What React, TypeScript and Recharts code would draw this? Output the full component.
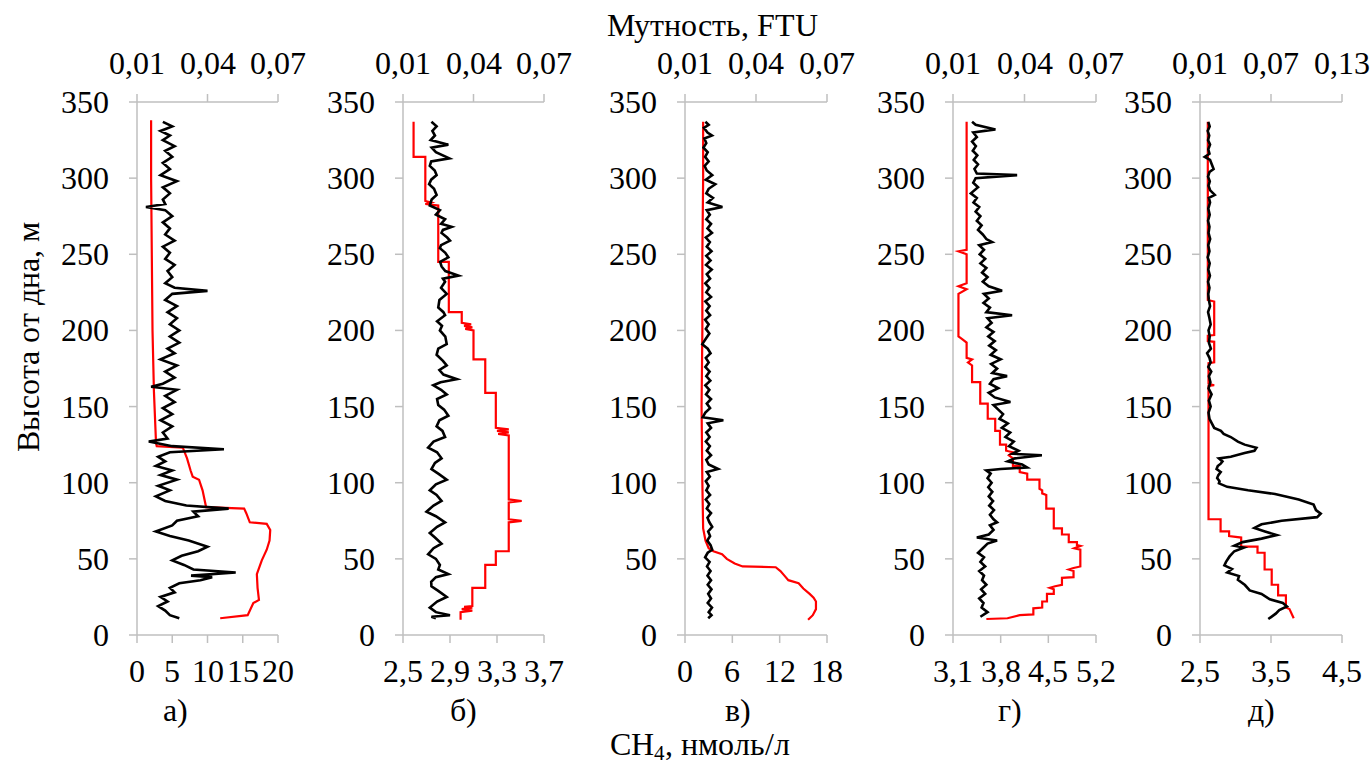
import { ScatterChart, Scatter, XAxis, YAxis } from "recharts";

// профили: [высота, значение]
const turbA = [
  [337, 0.021], [334, 0.025], [331, 0.02], [328, 0.024], [325, 0.021], [321, 0.026], [318, 0.022], [314, 0.025],
  [310, 0.021], [306, 0.024], [302, 0.02], [298, 0.027], [294, 0.021], [290, 0.024], [286, 0.021], [283, 0.022],
  [281, 0.0138], [279, 0.022], [275, 0.025], [271, 0.021], [267, 0.024], [263, 0.022], [259, 0.026], [255, 0.021],
  [251, 0.024], [247, 0.022], [243, 0.026], [239, 0.023], [235, 0.025], [231, 0.022], [228, 0.026], [226, 0.04],
  [224, 0.025], [220, 0.022], [216, 0.027], [212, 0.023], [208, 0.027], [204, 0.024], [200, 0.028], [196, 0.024],
  [192, 0.028], [188, 0.023], [185, 0.026], [181, 0.02], [177, 0.027], [173, 0.022], [169, 0.026], [165, 0.021],
  [163, 0.016], [161, 0.027], [157, 0.022], [153, 0.026], [149, 0.021], [145, 0.025], [141, 0.02], [137, 0.025],
  [133, 0.021], [129, 0.023], [127, 0.015], [124, 0.025], [122, 0.047], [120, 0.024], [117, 0.019], [114, 0.022],
  [111, 0.018], [108, 0.025], [105, 0.02], [102, 0.027], [98, 0.019], [95, 0.024], [91, 0.018], [88, 0.022],
  [85, 0.031], [83, 0.049], [81, 0.034], [78, 0.036], [75, 0.027], [72, 0.025], [68, 0.018], [65, 0.024],
  [62, 0.032], [58, 0.04], [55, 0.036], [52, 0.029], [49, 0.025], [46, 0.03], [43, 0.034], [41, 0.052],
  [39, 0.033], [38, 0.042], [36, 0.037], [34, 0.028], [31, 0.024], [28, 0.026], [25, 0.02], [22, 0.023],
  [19, 0.019], [16, 0.022], [13, 0.024], [11, 0.028],
];
const ch4A = [
  [338, 2.0], [300, 2.0], [250, 2.1], [200, 2.2], [160, 2.4], [126, 2.7], [124, 2.8], [123, 6.5], [116, 7.1],
  [108, 7.6], [104, 7.9], [102, 8.8], [95, 9.3], [84, 9.8], [83, 15.2], [80, 15.5], [74, 16.0], [73, 18.4],
  [69, 18.9], [62, 18.8], [56, 18.4], [49, 17.7], [40, 17.0], [31, 17.1], [23, 17.3], [21, 16.5], [13, 15.7],
  [11, 11.8],
];

const turbB = [
  [337, 0.0221], [334, 0.0243], [331, 0.0225], [328, 0.0236], [325, 0.0218], [322, 0.0293], [320, 0.0222],
  [317, 0.024], [313, 0.0297], [311, 0.022], [308, 0.0214], [305, 0.0235], [302, 0.0243], [299, 0.022],
  [296, 0.0211], [293, 0.0232], [289, 0.0243], [286, 0.0222], [282, 0.0214], [279, 0.0257], [276, 0.024],
  [273, 0.0279], [270, 0.0262], [268, 0.0307], [266, 0.027], [264, 0.0264], [261, 0.0288], [259, 0.03],
  [256, 0.0262], [254, 0.0257], [251, 0.028], [248, 0.0293], [245, 0.0258], [242, 0.0264], [239, 0.028],
  [236, 0.0336], [234, 0.027], [232, 0.0279], [228, 0.0262], [224, 0.0286], [220, 0.0255], [215, 0.025],
  [212, 0.0272], [210, 0.0279], [206, 0.0245], [203, 0.0266], [200, 0.0257], [196, 0.028], [191, 0.0286],
  [188, 0.025], [184, 0.0243], [180, 0.027], [177, 0.0286], [174, 0.0255], [171, 0.0272], [168, 0.0329],
  [166, 0.026], [164, 0.0229], [161, 0.0262], [158, 0.0286], [155, 0.0245], [151, 0.025], [148, 0.0275],
  [144, 0.0293], [141, 0.0255], [137, 0.0243], [134, 0.0268], [130, 0.0279], [127, 0.023], [123, 0.0207],
  [120, 0.0245], [116, 0.0264], [113, 0.0236], [109, 0.0221], [106, 0.025], [102, 0.0286], [99, 0.024],
  [95, 0.0214], [92, 0.0243], [88, 0.0264], [85, 0.023], [81, 0.02], [78, 0.024], [74, 0.0279], [71, 0.0245],
  [67, 0.0214], [64, 0.0236], [60, 0.0264], [57, 0.023], [53, 0.0207], [50, 0.024], [46, 0.0257], [43, 0.025],
  [40, 0.0293], [38, 0.024], [35, 0.022], [32, 0.0221], [29, 0.025], [25, 0.0286], [22, 0.0245], [18, 0.0214],
  [15, 0.024], [13, 0.03], [12, 0.0221], [11, 0.024],
];
const ch4B = [
  [337, 2.59], [314, 2.59], [314, 2.69], [285, 2.69], [284, 2.74], [283, 2.69], [282, 2.8], [245, 2.8],
  [245, 2.89], [212, 2.89], [212, 3.0], [205, 3.0], [204, 3.08], [203, 3.02], [202, 3.09], [201, 3.03],
  [200, 3.1], [181, 3.1], [181, 3.2], [159, 3.2], [159, 3.29], [136, 3.29], [135, 3.4], [134, 3.3],
  [133, 3.4], [132, 3.31], [131, 3.4], [89, 3.4], [88, 3.51], [87, 3.4], [76, 3.4], [75, 3.51], [74, 3.4],
  [55, 3.4], [55, 3.29], [46, 3.29], [46, 3.2], [31, 3.2], [31, 3.09], [19, 3.09], [18.5, 3.02], [18, 3.09],
  [17, 3.0], [16, 3.09], [15, 2.99], [10, 2.99],
];

const turbC = [
  [337, 0.0186], [335, 0.02], [333, 0.018], [330, 0.0195], [328, 0.0214], [326, 0.0182], [323, 0.019],
  [320, 0.0178], [317, 0.0196], [314, 0.0185], [311, 0.02], [308, 0.0183], [305, 0.0192], [302, 0.0215],
  [299, 0.0188], [296, 0.0228], [293, 0.02], [290, 0.019], [287, 0.0218], [284, 0.0196], [281, 0.0258],
  [279, 0.0192], [276, 0.0205], [273, 0.019], [270, 0.021], [267, 0.0195], [264, 0.0214], [261, 0.0188],
  [258, 0.0205], [255, 0.0192], [252, 0.0212], [249, 0.019], [246, 0.0208], [243, 0.0189], [240, 0.0213],
  [237, 0.0192], [234, 0.0206], [231, 0.0186], [228, 0.0203], [225, 0.019], [222, 0.021], [219, 0.0186],
  [216, 0.0204], [213, 0.019], [210, 0.0206], [207, 0.0185], [204, 0.02], [201, 0.0188], [198, 0.0203],
  [195, 0.019], [191, 0.0173], [188, 0.0196], [185, 0.0208], [182, 0.0188], [179, 0.02], [176, 0.0186],
  [173, 0.0204], [170, 0.019], [167, 0.0207], [164, 0.0186], [161, 0.0203], [158, 0.0189], [155, 0.021],
  [152, 0.0192], [149, 0.0206], [146, 0.0186], [143, 0.0175], [141, 0.0262], [139, 0.0196], [136, 0.021],
  [133, 0.019], [130, 0.0204], [127, 0.0188], [124, 0.0205], [121, 0.0192], [118, 0.021], [115, 0.019],
  [112, 0.02], [109, 0.024], [107, 0.0192], [104, 0.0205], [101, 0.0188], [98, 0.02], [95, 0.019],
  [92, 0.0206], [89, 0.0188], [86, 0.0203], [83, 0.0192], [80, 0.021], [77, 0.0195], [74, 0.0203],
  [71, 0.0215], [68, 0.0198], [65, 0.0206], [62, 0.0194], [59, 0.0208], [56, 0.0215], [54, 0.0196],
  [51, 0.0185], [48, 0.0204], [45, 0.0193], [42, 0.0208], [39, 0.0195], [36, 0.021], [33, 0.0196],
  [30, 0.0212], [27, 0.0198], [24, 0.021], [21, 0.0196], [18, 0.0214], [15, 0.02], [13, 0.0212], [11, 0.0198],
];
const ch4C = [
  [337, 2.3], [300, 2.3], [250, 2.2], [200, 2.2], [150, 2.1], [100, 2.2], [70, 2.3], [62, 2.6], [57, 3.0],
  [55, 3.6], [53, 4.7], [50, 5.3], [47, 6.3], [45, 7.3], [44.5, 11.5], [42, 12.1], [39, 12.6], [36, 13.1],
  [34, 14.4], [30.5, 15.0], [27, 15.8], [24.5, 16.3], [22, 16.6], [17, 16.6], [13, 16.2], [10, 15.6],
];

const turbD = [
  [337, 0.018], [335, 0.0195], [332, 0.0278], [330, 0.0185], [327, 0.02], [324, 0.018], [321, 0.0196],
  [318, 0.0183], [315, 0.0202], [312, 0.0187], [309, 0.0205], [306, 0.019], [303, 0.02], [302, 0.0369],
  [300, 0.0195], [297, 0.0185], [294, 0.0205], [290, 0.0175], [287, 0.02], [284, 0.0186], [281, 0.021],
  [278, 0.0195], [275, 0.0215], [272, 0.02], [269, 0.022], [266, 0.0205], [263, 0.0225], [260, 0.024],
  [258, 0.0264], [256, 0.021], [253, 0.023], [250, 0.0212], [247, 0.0235], [244, 0.0215], [241, 0.024],
  [238, 0.0222], [235, 0.0245], [232, 0.0225], [229, 0.025], [226, 0.0306], [224, 0.023], [221, 0.025],
  [218, 0.0228], [215, 0.0255], [212, 0.024], [210, 0.0348], [208, 0.0245], [205, 0.0262], [202, 0.024],
  [199, 0.027], [196, 0.0248], [193, 0.0275], [190, 0.0252], [187, 0.028], [184, 0.0258], [181, 0.03],
  [178, 0.026], [175, 0.0285], [172, 0.0265], [170, 0.0327], [168, 0.027], [165, 0.0255], [162, 0.029],
  [159, 0.025], [156, 0.0275], [153, 0.0341], [151, 0.027], [148, 0.029], [145, 0.031], [142, 0.0295],
  [139, 0.033], [136, 0.0305], [133, 0.034], [130, 0.032], [127, 0.0355], [124, 0.0335], [121, 0.0375],
  [119, 0.035], [118, 0.0473], [116, 0.036], [114, 0.033], [112, 0.039], [110, 0.0411], [109, 0.03],
  [108, 0.024], [106, 0.0258], [103, 0.0245], [100, 0.0262], [97, 0.0248], [94, 0.0265], [91, 0.025],
  [88, 0.0268], [85, 0.0252], [82, 0.0272], [79, 0.0255], [76, 0.027], [74, 0.0285], [72, 0.0255],
  [69, 0.027], [66, 0.025], [64, 0.02], [62, 0.0285], [60, 0.0245], [57, 0.0225], [54, 0.0205], [51, 0.023],
  [48, 0.0215], [45, 0.0235], [42, 0.021], [39, 0.023], [36, 0.0222], [33, 0.024], [30, 0.0218], [27, 0.0235],
  [24, 0.021], [21, 0.0228], [18, 0.022], [15, 0.0245], [12, 0.0215],
];
const ch4D = [
  [337, 3.3], [253, 3.3], [252, 3.18], [250, 3.3], [231, 3.3], [229, 3.18], [227, 3.3], [224, 3.18],
  [196, 3.18], [194.5, 3.23], [192, 3.3], [182, 3.3], [181, 3.38], [179, 3.32], [177, 3.38], [166, 3.38],
  [166, 3.5], [152, 3.5], [152, 3.61], [142, 3.61], [142, 3.72], [134, 3.72], [134, 3.79], [125, 3.79],
  [125, 3.88], [121, 3.88], [120, 3.98], [118, 3.92], [116, 3.98], [111, 3.98], [111, 4.08], [107, 4.08],
  [106, 4.19], [102, 4.19], [102, 4.37], [96, 4.37], [95, 4.41], [93, 4.41], [92, 4.47], [83, 4.47],
  [83, 4.58], [70, 4.58], [70, 4.7], [66, 4.7], [66, 4.8], [61, 4.8], [61, 4.92], [59, 4.92], [58.5, 4.97],
  [57, 4.88], [56, 4.97], [48, 4.97], [45, 4.97], [44, 4.87], [43, 4.8], [42, 4.87], [38, 4.87], [37.5, 4.7],
  [33, 4.7], [32, 4.6], [31, 4.52], [30, 4.58], [27, 4.58], [27, 4.48], [22, 4.48], [22, 4.41], [18, 4.41],
  [17.5, 4.28], [13.5, 4.28], [13, 4.08], [11, 3.9], [10.5, 3.59],
];

const turbE = [
  [337, 0.017], [334, 0.0182], [331, 0.0165], [328, 0.0178], [325, 0.0168], [322, 0.0185], [319, 0.017],
  [316, 0.018], [314, 0.014], [312, 0.0185], [309, 0.02], [306, 0.0215], [304, 0.018], [301, 0.0168],
  [298, 0.0183], [295, 0.0172], [292, 0.0186], [289, 0.0225], [287, 0.0175], [284, 0.0185], [280, 0.017],
  [276, 0.0182], [272, 0.0168], [268, 0.018], [264, 0.0172], [260, 0.0186], [256, 0.017], [252, 0.018],
  [248, 0.0165], [244, 0.0182], [240, 0.017], [236, 0.0184], [232, 0.0168], [228, 0.018], [224, 0.017],
  [220, 0.0175], [216, 0.0185], [212, 0.0168], [208, 0.018], [204, 0.019], [200, 0.0172], [196, 0.0182],
  [192, 0.0175], [188, 0.0192], [185, 0.016], [182, 0.018], [179, 0.019], [176, 0.017], [173, 0.0195],
  [170, 0.0175], [166, 0.0188], [162, 0.0172], [158, 0.0198], [154, 0.0175], [150, 0.019], [146, 0.0172],
  [142, 0.018], [139, 0.02], [136, 0.022], [134, 0.0277], [132, 0.03], [130, 0.036], [127, 0.042],
  [125, 0.0477], [123, 0.0577], [121, 0.056], [119.5, 0.0477], [117, 0.036], [116, 0.026], [114, 0.029],
  [112.5, 0.0275], [111, 0.025], [109, 0.024], [107, 0.0275], [105, 0.0255], [103, 0.0245], [101, 0.0265],
  [99.6, 0.026], [97.3, 0.033], [95, 0.0506], [92.6, 0.0734], [89, 0.0934], [85.6, 0.106], [82, 0.108],
  [79.7, 0.112], [77.4, 0.109], [75, 0.079], [72.7, 0.062], [70.3, 0.056], [68, 0.0649], [65.6, 0.0749],
  [63.3, 0.062], [61, 0.046], [58.6, 0.039], [57.4, 0.047], [55, 0.039], [51.6, 0.035], [48, 0.032],
  [45.7, 0.0306], [43.4, 0.037], [41, 0.033], [38.7, 0.043], [36.3, 0.042], [32.8, 0.048], [29.3, 0.052],
  [27, 0.062], [23.4, 0.069], [21, 0.08], [18.8, 0.0834], [16.4, 0.077], [14, 0.074], [10.5, 0.0677],
];
const ch4E = [
  [337, 2.61], [220, 2.61], [219, 2.7], [197, 2.7], [196.5, 2.61], [193, 2.61], [192.5, 2.7], [179, 2.7],
  [178.5, 2.62], [165, 2.62], [164, 2.7], [163.5, 2.62], [76, 2.62], [76, 2.79], [68, 2.79], [68, 2.91],
  [65, 2.91], [64, 3.08], [58, 3.08], [58, 3.31], [54, 3.31], [54, 3.41], [43, 3.41], [43, 3.51], [33, 3.51],
  [33, 3.6], [26, 3.6], [26, 3.71], [18, 3.71], [17, 3.76], [11, 3.82],
];

const heightTicks = [0, 50, 100, 150, 200, 250, 300, 350];
const turbTicks = [0.01, 0.04, 0.07];
const turbTicksE = [0.01, 0.07, 0.13];
const ch4TicksA = [0, 5, 10, 15, 20];
const ch4TicksB = [2.5, 2.9, 3.3, 3.7];
const ch4TicksC = [0, 6, 12, 18];
const ch4TicksD = [3.1, 3.8, 4.5, 5.2];
const ch4TicksE = [2.5, 3.5, 4.5];
const panelNames = ["а)", "б)", "в)", "г)", "д)"];

// локальный шрифт под своим именем
const FONT_CSS = `
@font-face {
  font-family: "ChartSerif";
  src: local("Liberation Serif"), local("LiberationSerif"), local("LiberationSerif-Regular"),
       local("Tinos"), local("Tinos-Regular"), local("Times New Roman");
}
.cs, .cs text { font-family: "ChartSerif", "Liberation Serif", "Tinos", serif !important; }
`;
const FONT = "ChartSerif, Liberation Serif, Tinos";
const AXIS = "#bfbfbf";
const PLOT_TOP = 102;
const PLOT_H = 533;
const Y_W = 80;
const R_M = 40;
const TOP_H = 70;
const BOT_H = 60;

const toPts = (arr: number[][]) => arr.map(([h, v]) => ({ h, v }));
const fmt = (v: number) => String(v).replace(".", ",");
const noDot = () => <g />;

const Tick = ({ x, y, payload, anchor, dy, fmtFn }: any) => (
  <text x={x} y={y} dy={dy} textAnchor={anchor} fontFamily={FONT} fontSize={32} fill="#000">
    {fmtFn ? fmtFn(payload.value) : payload.value}
  </text>
);

function Panel({ x0, w, ch4, turb, ch4Ticks, tTicks }: any) {
  return (
    <div className="cs" style={{ position: "absolute", left: x0 - Y_W, top: PLOT_TOP - TOP_H }}>
      <ScatterChart
        width={Y_W + w + R_M}
        height={TOP_H + PLOT_H + BOT_H}
        margin={{ top: 0, right: R_M, bottom: 0, left: 0 }}
      >
        <XAxis
          xAxisId="ch4"
          type="number"
          dataKey="v"
          orientation="bottom"
          domain={[ch4Ticks[0], ch4Ticks[ch4Ticks.length - 1]]}
          ticks={ch4Ticks}
          interval={0}
          allowDataOverflow
          height={BOT_H}
          tickSize={8}
          tickMargin={16}
          tick={<Tick anchor="middle" dy={23} fmtFn={fmt} />}
          axisLine={{ stroke: AXIS, strokeWidth: 1.5 }}
          tickLine={{ stroke: AXIS, strokeWidth: 1.5 }}
        />
        <XAxis
          xAxisId="turb"
          type="number"
          dataKey="v"
          orientation="top"
          domain={[tTicks[0], tTicks[tTicks.length - 1]]}
          ticks={tTicks}
          interval={0}
          allowDataOverflow
          height={TOP_H}
          tickSize={8}
          tickMargin={20}
          tick={<Tick anchor="middle" dy={0} fmtFn={fmt} />}
          axisLine={{ stroke: AXIS, strokeWidth: 1.5 }}
          tickLine={{ stroke: AXIS, strokeWidth: 1.5 }}
        />
        <YAxis
          type="number"
          dataKey="h"
          domain={[0, 350]}
          ticks={heightTicks}
          interval={0}
          allowDataOverflow
          width={Y_W}
          tickSize={8}
          tickMargin={20}
          tick={<Tick anchor="end" dy={11} />}
          axisLine={{ stroke: AXIS, strokeWidth: 1.5 }}
          tickLine={{ stroke: AXIS, strokeWidth: 1.5 }}
        />
        <Scatter
          xAxisId="ch4"
          data={toPts(ch4)}
          line={{ stroke: "#ff0000", strokeWidth: 2.2 }}
          shape={noDot}
          isAnimationActive={false}
        />
        <Scatter
          xAxisId="turb"
          data={toPts(turb)}
          line={{ stroke: "#000000", strokeWidth: 2.6 }}
          shape={noDot}
          isAnimationActive={false}
        />
      </ScatterChart>
    </div>
  );
}

const textBase: any = {
  position: "absolute",
  fontSize: 32,
  lineHeight: "32px",
  color: "#000",
  whiteSpace: "nowrap",
  transform: "translateX(-50%)",
};

export default function App() {
  const panels = [
    { x0: 137, w: 141, ch4: ch4A, turb: turbA, ch4Ticks: ch4TicksA, tTicks: turbTicks, lx: 175 },
    { x0: 403, w: 141, ch4: ch4B, turb: turbB, ch4Ticks: ch4TicksB, tTicks: turbTicks, lx: 463 },
    { x0: 685, w: 142, ch4: ch4C, turb: turbC, ch4Ticks: ch4TicksC, tTicks: turbTicks, lx: 738 },
    { x0: 953, w: 143, ch4: ch4D, turb: turbD, ch4Ticks: ch4TicksD, tTicks: turbTicks, lx: 1010 },
    { x0: 1200, w: 142, ch4: ch4E, turb: turbE, ch4Ticks: ch4TicksE, tTicks: turbTicksE, lx: 1261 },
  ];
  return (
    <div className="cs" style={{ position: "absolute", left: 0, top: 0, width: 1370, height: 764, background: "#fff", overflow: "hidden" }}>
      <style>{FONT_CSS}</style>
      <div className="cs" style={{ ...textBase, left: 712, top: 9 }}>Мутность, FTU</div>
      {panels.map((p, i) => (
        <Panel key={i} {...p} />
      ))}
      {panels.map((p, i) => (
        <div key={"l" + i} className="cs" style={{ ...textBase, left: p.lx, top: 694 }}>
          {panelNames[i]}
        </div>
      ))}
      <div className="cs" style={{ ...textBase, left: 700, top: 728 }}>
        CH<sub style={{ fontSize: 21, verticalAlign: "-0.25em", lineHeight: 0 }}>4</sub>, нмоль/л
      </div>
      <div
        className="cs"
        style={{
          ...textBase,
          left: 28,
          top: 337,
          transform: "translate(-50%, -50%) rotate(-90deg)",
        }}
      >
        Высота от дна, м
      </div>
    </div>
  );
}
